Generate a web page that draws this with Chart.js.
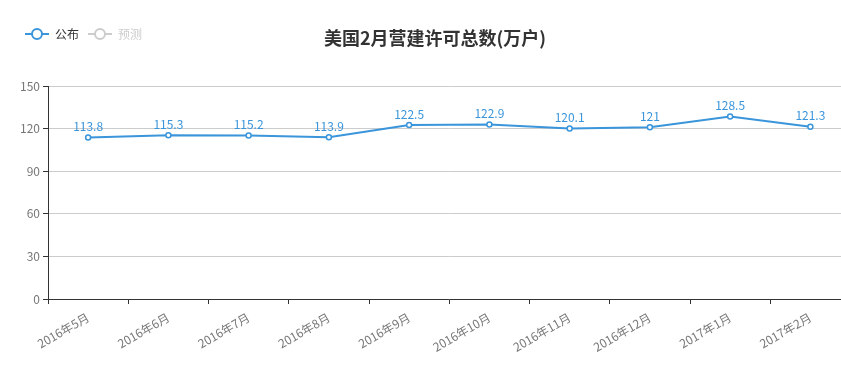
<!DOCTYPE html>
<html><head><meta charset="utf-8">
<script src="https://cdn.jsdelivr.net/npm/chart.js@4/dist/chart.umd.min.js"></script>
<style>html,body{margin:0;padding:0;background:#fff;overflow:hidden}#wrap{width:841px;height:379px;position:relative;overflow:hidden}</style>
</head><body><div id="wrap"><canvas id="c" width="856" height="379"></canvas></div>
<script>
const categories = ['2016年5月','2016年6月','2016年7月','2016年8月','2016年9月','2016年10月','2016年11月','2016年12月','2017年1月','2017年2月'];
const published = [113.8,115.3,115.2,113.9,122.5,122.9,120.1,121,128.5,121.3];
const forecast = [];
const yTicks = [0,30,60,90,120,150];
const titleText = '美国2月营建许可总数(万户)';
const legendNames = ['公布','预测'];

const BLUE = '#3a95db';
const FONT = '"Noto Sans CJK SC","Noto Sans",sans-serif';

const overlay = {
  id: 'overlay',
  afterDatasetsDraw(chart) {
    const ctx = chart.ctx;
    ctx.save();
    const meta = chart.getDatasetMeta(0);
    ctx.font = '12px ' + FONT;
    ctx.fillStyle = BLUE;
    ctx.textAlign = 'center';
    ctx.textBaseline = 'bottom';
    meta.data.forEach((pt, i) => {
      ctx.fillText(String(published[i]), pt.x, pt.y - 5);
    });
    ctx.font = 'bold 18px ' + FONT;
    ctx.fillStyle = '#333';
    ctx.textBaseline = 'middle';
    ctx.fillText(titleText, 435, 38);
    const items = [{x:25, color: BLUE, text: legendNames[0], tc:'#333'}, {x:88, color:'#ccc', text: legendNames[1], tc:'#ccc'}];
    items.forEach(it => {
      const cy = 34;
      ctx.strokeStyle = it.color;
      ctx.lineWidth = 2;
      ctx.beginPath(); ctx.moveTo(it.x, cy); ctx.lineTo(it.x + 24, cy); ctx.stroke();
      ctx.beginPath(); ctx.arc(it.x + 12, cy, 5, 0, Math.PI*2);
      ctx.fillStyle = '#fff'; ctx.fill(); ctx.stroke();
      ctx.font = '12px ' + FONT;
      ctx.fillStyle = it.tc;
      ctx.textAlign = 'left';
      ctx.fillText(it.text, it.x + 30, cy);
    });
    ctx.restore();
  }
};

new Chart(document.getElementById('c'), {
  type: 'line',
  data: {
    labels: categories,
    datasets: [
      { label: legendNames[0], data: published, borderColor: BLUE, backgroundColor: '#fff',
        borderWidth: 2, pointRadius: 2.5, pointBorderWidth: 1.5, pointBackgroundColor: '#fff',
        pointBorderColor: BLUE, tension: 0, fill: false },
      { label: legendNames[1], data: forecast, hidden: true, borderColor: '#ccc' }
    ]
  },
  options: {
    responsive: false,
    animation: false,
    layout: { padding: { top: 86, right: 0, left: 0, bottom: 0 } },
    plugins: { legend: { display: false }, title: { display: false }, tooltip: { enabled: false } },
    scales: {
      x: {
        offset: true,
        grid: { offset: true, drawOnChartArea: false, tickLength: 5, tickColor: '#333' },
        border: { color: '#333', width: 1 },
        ticks: { minRotation: 30, maxRotation: 30, color: '#777', font: { size: 12, family: FONT }, padding: 6, autoSkip: false },
        afterFit(s) { s.height = 80; }
      },
      y: {
        min: 0, max: 150,
        afterBuildTicks(s) { s.ticks = yTicks.map(v => ({ value: v })); },
        grid: { color: '#ccc', tickLength: 5, tickColor: '#333' },
        border: { color: '#333', width: 1 },
        ticks: { color: '#777', font: { size: 12, family: FONT }, padding: 3 },
        afterFit(s) { s.width = 48; }
      }
    }
  },
  plugins: [overlay]
});
</script></body></html>
